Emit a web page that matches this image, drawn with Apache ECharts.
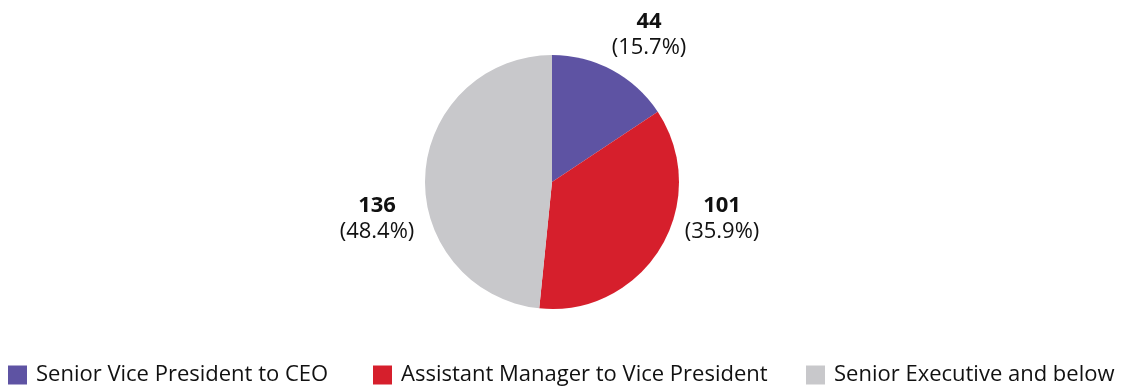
<!DOCTYPE html>
<html>
<head>
<meta charset="utf-8">
<script src="https://cdn.jsdelivr.net/npm/echarts@6/dist/echarts.min.js"></script>
<style>
  html, body { margin: 0; padding: 0; background: #ffffff; }
  #chart { width: 1127px; height: 387px; }
</style>
</head>
<body>
<div id="chart"></div>
<script>
// Headcount by grade band
const categories = [
  'Senior Vice President to CEO',
  'Assistant Manager to Vice President',
  'Senior Executive and below'
];
const counts = [44, 101, 136];
const percentLabels = ['15.7%', '35.9%', '48.4%'];
const colors = ['#5e53a3', '#d61f2c', '#c8c8cb'];

const FONT = '"Open Sans", Lato, sans-serif';
const CX = 552, CY = 182, R = 127;
// label block offsets from the pie centre
const labelOffsets = [[97, -147], [170, 37], [-175, 37]];
const legendLefts = [8, 373, 806];

const chart = echarts.init(document.getElementById('chart'), null, { renderer: 'canvas' });

const legends = categories.map((name, i) => ({
  data: [name],
  left: legendLefts[i],
  top: 364,
  padding: 0,
  orient: 'horizontal',
  itemWidth: 19,
  itemHeight: 19,
  itemGap: 0,
  icon: 'rect',
  selectedMode: false,
  textStyle: { fontFamily: FONT, fontSize: 22, color: '#111111', padding: [0, 0, 0, 4] }
}));

chart.setOption({
  animation: false,
  color: colors,
  legend: legends,
  series: [{
    type: 'pie',
    center: [CX, CY],
    radius: [0, R],
    startAngle: 90,
    clockwise: true,
    silent: true,
    itemStyle: { borderWidth: 0 },
    labelLine: { show: false },
    label: {
      show: true,
      position: 'outside',
      formatter: p => '{v|' + p.value + '}\n{p|(' + percentLabels[p.dataIndex] + ')}',
      rich: {
        v: { fontFamily: FONT, fontSize: 22, fontWeight: 'bold', color: '#111111', lineHeight: 26, align: 'center' },
        p: { fontFamily: FONT, fontSize: 22, color: '#111111', lineHeight: 26, align: 'center' }
      }
    },
    labelLayout: params => {
      const o = labelOffsets[params.dataIndex];
      return { x: CX + o[0], y: CY + o[1], align: 'center', verticalAlign: 'middle', hideOverlap: false };
    },
    data: categories.map((name, i) => ({ name, value: counts[i] }))
  }]
});
</script>
</body>
</html>
